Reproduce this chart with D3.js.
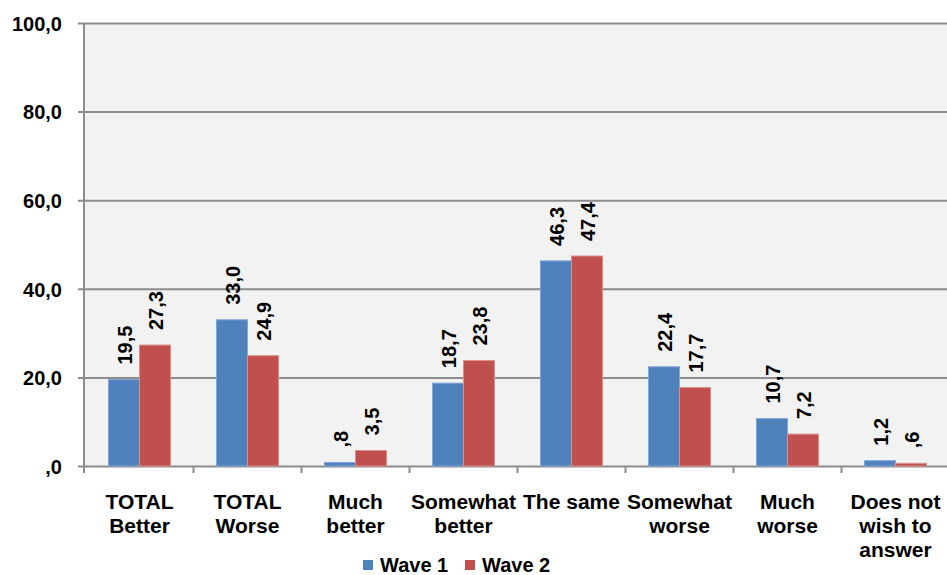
<!DOCTYPE html>
<html>
<head>
<meta charset="utf-8">
<script src="https://cdn.jsdelivr.net/npm/d3@7"></script>
<style>
  html, body { margin: 0; padding: 0; background: #ffffff; }
  svg { display: block; font-family: Arial, "Liberation Sans", sans-serif; font-weight: bold; }
</style>
</head>
<body>
<svg id="chart" width="947" height="575"></svg>
<script>
// Categories (lines of each label) and the two waves
const categories = [
  ["TOTAL", "Better"],
  ["TOTAL", "Worse"],
  ["Much", "better"],
  ["Somewhat", "better"],
  ["The same"],
  ["Somewhat", "worse"],
  ["Much", "worse"],
  ["Does not", "wish to", "answer"]
];
const seriesNames = ["Wave 1", "Wave 2"];
const wave1 = [19.5, 33.0, 0.8, 18.7, 46.3, 22.4, 10.7, 1.2];
const wave2 = [27.3, 24.9, 3.5, 23.8, 47.4, 17.7, 7.2, 0.6];
const yTicks = [0, 20, 40, 60, 80, 100];
const yTickLabels = [",0", "20,0", "40,0", "60,0", "80,0", "100,0"];

const colors = ["#4f81bd", "#c0504d"];
const strokes = ["#7ea6d8", "#dc8f8c"];

const svg = d3.select("#chart");
const plotLeft = 84, plotRight = 947, plotTop = 23, plotBottom = 466;
// the category band runs slightly past the right edge of the drawing
const bandLeft = 85.5, bandRight = 949.5;

// Plot area background
svg.append("rect")
  .attr("x", plotLeft).attr("y", plotTop)
  .attr("width", plotRight - plotLeft).attr("height", plotBottom - plotTop)
  .attr("fill", "#f2f2f2");

const y = d3.scaleLinear().domain([0, 100]).range([plotBottom, plotTop]);
const catKeys = categories.map((c, i) => i);
const x0 = d3.scaleBand().domain(catKeys).range([bandLeft, bandRight]).paddingInner(0).paddingOuter(0);
const x1 = d3.scaleBand().domain(seriesNames).range([0, x0.bandwidth()]).paddingInner(0).paddingOuter(0.74);

// Horizontal gridlines with left tick marks
const yAxis = d3.axisLeft(y).tickValues(yTicks)
  .tickFormat((d, i) => yTickLabels[i])
  .tickSize(-(plotRight - plotLeft)).tickSizeOuter(0).tickPadding(0);
const gy = svg.append("g").attr("transform", `translate(${plotLeft},0)`).call(yAxis);
gy.select(".domain").remove();
gy.selectAll(".tick line").attr("stroke", "#8c8c8c").attr("stroke-width", 2)
  .attr("x1", -6);
gy.selectAll(".tick text")
  .attr("x", -22).attr("dy", "0.36em")
  .attr("fill", "#000").attr("font-size", 20).attr("font-weight", "bold")
  .attr("font-family", "Arial, 'Liberation Sans', sans-serif");

// Vertical axis line
svg.append("line")
  .attr("x1", plotLeft).attr("x2", plotLeft).attr("y1", plotTop).attr("y2", plotBottom + 7)
  .attr("stroke", "#8c8c8c").attr("stroke-width", 2);

// Category separator ticks below the baseline
svg.append("g").selectAll("line")
  .data(catKeys.slice(1))
  .join("line")
  .attr("x1", d => x0(d)).attr("x2", d => x0(d))
  .attr("y1", plotBottom).attr("y2", plotBottom + 7)
  .attr("stroke", "#8c8c8c").attr("stroke-width", 2);

// Bars
const rows = categories.map((c, i) => ({ i, values: [wave1[i], wave2[i]] }));
const groups = svg.append("g").selectAll("g")
  .data(rows)
  .join("g")
  .attr("transform", d => `translate(${x0(d.i)},0)`);

groups.selectAll("rect")
  .data(d => d.values.map((v, k) => ({ v, k })))
  .join("rect")
  .attr("x", d => x1(seriesNames[d.k]))
  .attr("y", d => y(d.v))
  .attr("width", x1.bandwidth())
  .attr("height", d => plotBottom - y(d.v))
  .attr("fill", d => colors[d.k])
  .attr("stroke", d => strokes[d.k])
  .attr("stroke-width", 1);

// Rotated value labels
const fmt = v => {
  const s = v.toFixed(1).replace(".", ",");
  return s.startsWith("0,") ? s.slice(1) : s;
};
groups.selectAll("text.value")
  .data(d => d.values.map((v, k) => ({ v, k })))
  .join("text")
  .attr("class", "value")
  .attr("transform", d => {
    const cx = x1(seriesNames[d.k]) + x1.bandwidth() / 2 + 8;
    return `translate(${cx},${y(d.v) - 15}) rotate(-90)`;
  })
  .attr("font-size", 20)
  .attr("fill", "#000")
  .text(d => fmt(d.v));

// Category labels
const cat = svg.append("g").selectAll("text")
  .data(categories.map((lines, i) => ({ lines, i })))
  .join("text")
  .attr("x", d => x0(d.i) + x0.bandwidth() / 2)
  .attr("y", 509)
  .attr("text-anchor", "middle")
  .attr("font-size", 21)
  .attr("fill", "#000");
cat.selectAll("tspan")
  .data(d => d.lines.map(l => ({ l, x: x0(d.i) + x0.bandwidth() / 2 })))
  .join("tspan")
  .attr("x", d => d.x)
  .attr("dy", (d, j) => j === 0 ? 0 : 24)
  .text(d => d.l);

// Legend
const legendX = [363, 465];
const legend = svg.append("g").selectAll("g")
  .data(seriesNames)
  .join("g")
  .attr("transform", (d, i) => `translate(${legendX[i]},560)`);
legend.append("rect")
  .attr("width", 10).attr("height", 10)
  .attr("fill", (d, i) => colors[i]);
legend.append("text")
  .attr("x", 17).attr("y", 12)
  .attr("font-size", 20).attr("fill", "#000")
  .text(d => d);
</script>
</body>
</html>
